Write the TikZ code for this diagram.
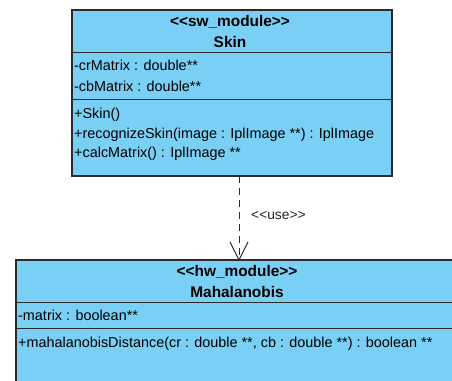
\documentclass[tikz,border=0pt]{standalone}
\usepackage{fontspec}
\setmainfont{Liberation Sans}
\usetikzlibrary{arrows.meta}
\definecolor{umlblue}{HTML}{7ACFF5}
\definecolor{umlline}{HTML}{2B2B2B}
\newcommand{\ltlt}{<\kern0pt<}
\newcommand{\gtgt}{>\kern0pt>}
\begin{document}
\begin{tikzpicture}[x=1pt,y=-1pt,
  classbox/.style={draw=umlline,line width=1.2pt,fill=umlblue},
  divider/.style={draw=umlline,line width=1pt},
  hdr/.style={font=\fontsize{15.4}{17}\selectfont\bfseries,anchor=base,inner sep=0pt},
  member/.style={font=\fontsize{14.4}{16}\selectfont,anchor=base west,inner sep=0pt},
  lbl/.style={font=\fontsize{13.8}{16}\selectfont,anchor=base west,inner sep=0pt,text=black!85}]
\useasboundingbox (0,0) rectangle (452,380);
\clip (0,0) rectangle (452,380);
\fill[white] (0,0) rectangle (452,380);
% Skin class
\draw[classbox] (72,10) rectangle (392,176);
\coordinate (skinbot) at (239,176);
\draw[divider] (72,52) -- (392,52);
\draw[divider] (72,99) -- (392,99);
\node[hdr] (s1) at (230,26) {\ltlt sw\_module\gtgt};
\node[hdr] (s2) at (230,47) {Skin};
\node[member] (sa1) at (74,70) {-crMatrix : double**};
\node[member] (sa2) at (74,91) {-cbMatrix : double**};
\node[member] (sm1) at (74,118) {+Skin()};
\node[member] (sm2) at (74,138) {+recognizeSkin(image : IplImage **) : IplImage};
\node[member] (sm3) at (74,157) {+calcMatrix() : IplImage **};
% Mahalanobis class
\draw[classbox] (16,260) rectangle (470,400);
\coordinate (mahtop) at (239,260);
\draw[divider] (16,302) -- (470,302);
\draw[divider] (16,328) -- (470,328);
\node[hdr] (m1) at (237,276) {\ltlt hw\_module\gtgt};
\node[hdr] (m2) at (237,297) {Mahalanobis};
\node[member] (ma1) at (18,320) {-matrix : boolean**};
\node[member] (mm1) at (18,347) {+mahalanobisDistance(cr : double **, cb : double **) : boolean **};
% dependency
\draw[line width=1pt,dash pattern=on 7pt off 5pt,draw=umlline] (skinbot) -- (mahtop);
\draw[line width=1pt,draw=umlline] (230,242) -- (mahtop) -- (248,242);
\node[lbl] (use) at (251,219) {\ltlt use\gtgt};
\end{tikzpicture}
\end{document}
